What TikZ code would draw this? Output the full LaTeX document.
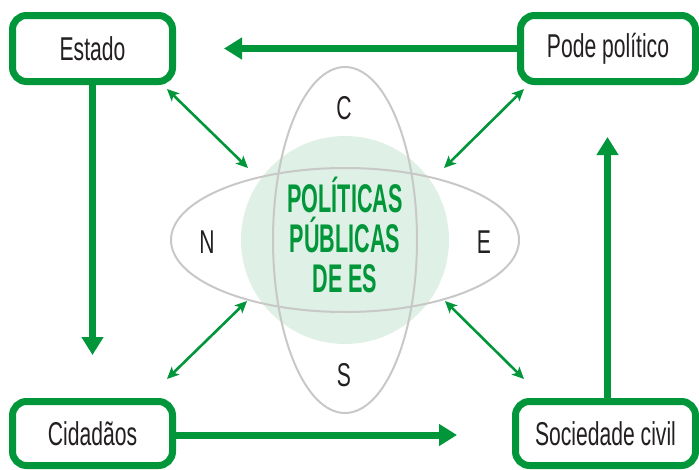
\documentclass[tikz,border=0pt]{standalone}
\usepackage{fontspec}
\setmainfont{Liberation Sans}[FakeStretch=0.64]
\newfontfamily\titlefont{Liberation Sans}[FakeStretch=0.54]
\usetikzlibrary{arrows.meta}
\definecolor{pgreen}{HTML}{009639}
\definecolor{pcircle}{HTML}{DFF0E6}
\definecolor{pgray}{HTML}{C8C8C8}
\definecolor{ptext}{HTML}{231F20}
\begin{document}
\begin{tikzpicture}[x=1pt,y=-1pt,
  box/.style={draw=pgreen, line width=7pt, rounded corners=14pt, fill=white, text=ptext,
    font=\fontsize{33}{38}\selectfont, inner sep=0pt},
  bigarrow/.style={draw=pgreen, line width=7pt, -{Triangle[width=21pt,length=18pt]}},
  thinarrow/.style={draw=pgreen, line width=2.6pt,
    {Stealth[length=12pt,width=11pt,inset=3pt]}-{Stealth[length=12pt,width=11pt,inset=3pt]}},
  ring/.style={draw=pgray, line width=2pt},
  letter/.style={text=ptext, font=\fontsize{33}{38}\selectfont, inner sep=0pt},
  title/.style={text=pgreen, font=\titlefont\bfseries\fontsize{40}{40}\selectfont,
    align=center, inner sep=0pt}]
\useasboundingbox (0,0) rectangle (699,469);
% centre circle and rings
\fill[pcircle] (345,240) circle [radius=104pt];
\draw[ring] (345,240) ellipse [x radius=72pt, y radius=173pt];
\draw[ring] (345,240) ellipse [x radius=174pt, y radius=72pt];
\node[title] (titulo) at (345,235) {POLÍTICAS\\PÚBLICAS\\DE ES};
\node[letter] (c) at (344,108) {C};
\node[letter] (n) at (207,242) {N};
\node[letter] (e) at (484,242) {E};
\node[letter] (s) at (344,375) {S};
% boxes
\node[box, minimum width=160pt, minimum height=66pt] (estado) at (92.5,48.5) {Estado};
\node[box, minimum width=175pt, minimum height=66pt] (pode) at (608,48.5) {Pode político};
\node[box, minimum width=160pt, minimum height=64pt] (cidadaos) at (92.5,433.5) {Cidadãos};
\node[box, minimum width=180pt, minimum height=64pt] (sociedade) at (605.5,433.5) {Sociedade civil};
% big arrows
\coordinate (tipTop) at (224,48.5);
\coordinate (tipDown) at (92.5,355);
\coordinate (tipRight) at (457,435);
\coordinate (tipUp) at (607.5,137);
\draw[bigarrow] (pode.west) -- (tipTop);
\draw[bigarrow] (estado.south) -- (tipDown);
\draw[bigarrow] (cidadaos.east |- tipRight) -- (tipRight);
\draw[bigarrow] (sociedade.north -| tipUp) -- (tipUp);
% thin double arrows
\coordinate (tlA) at (167,89);  \coordinate (tlB) at (248,168);
\coordinate (trA) at (524,89);  \coordinate (trB) at (444,168);
\coordinate (blA) at (247,301); \coordinate (blB) at (167,379);
\coordinate (brA) at (445,301); \coordinate (brB) at (524,379);
\draw[thinarrow] (tlA) -- (tlB);
\draw[thinarrow] (trA) -- (trB);
\draw[thinarrow] (blA) -- (blB);
\draw[thinarrow] (brA) -- (brB);
\end{tikzpicture}
\end{document}
